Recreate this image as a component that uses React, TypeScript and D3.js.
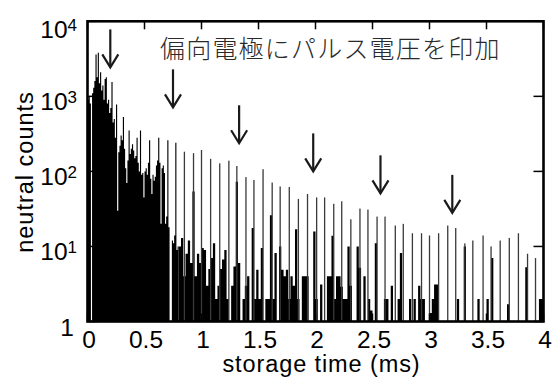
import React from "react";
import * as d3 from "d3";

// histogram of neutral counts vs storage time (ms)
const W = 552;
const H = 377;

const EARLY_BIN = 0.01; // ms, bins 0 .. 0.8 ms
const TAIL_START = 0.8;
const TAIL_BIN = 0.02; // ms, bins 0.8 .. 4 ms

const earlyCounts = [
  900, 1000, 800, 1, 1100, 1300, 1600, 3600, 1800, 3800,
  1500, 2100, 1200, 1400, 900, 1700, 1800, 800, 900, 600,
  700, 1550, 450, 500, 280, 780, 30, 180, 220, 300,
  260, 530, 200, 110, 70, 140, 350, 170, 200, 230,
  190, 150, 160, 280, 130, 100, 350, 90, 95, 45,
  100, 110, 90, 130, 260, 80, 50, 90, 75, 85,
  120, 140, 280, 130, 20, 110, 120, 95, 20, 25,
  260, 18, 1, 1, 12, 11, 14, 240, 9, 10,
];

const tailCounts = [
  10, 13, 4, 8, 12, 6, 54, 4, 8, 6,
  9.5, 9, 3, 5, 7, 11, 2, 3, 5, 6.7,
  9, 2, 1, 3, 5.4, 73, 6, 1, 2, 3,
  4, 1, 17.6, 2, 4.9, 2, 9.5, 1, 2, 2,
  26, 2, 8.2, 1, 10, 4.9, 4, 4.9, 2, 4,
  3, 17, 2, 1, 4, 4, 4, 1, 1, 15.8,
  2, 1, 3.1, 1, 1, 4, 4, 13.9, 2, 4,
  4, 2.9, 2, 2, 10, 3, 1, 1, 10, 5.2,
  1, 4, 1, 2, 1.4, 1, 11, 1, 1, 1,
  2, 2, 1, 3, 1, 1, 2, 8.2, 1, 1,
  1, 2, 1, 2, 1, 3, 2, 2, 1, 1,
  1.3, 2, 3.1, 3.1, 1, 1, 1, 1, 1, 1,
  1, 1, 2, 1, 1, 10, 1, 1, 1, 1,
  1, 2, 1, 1, 1, 2, 1, 7, 1, 1,
  1, 1, 1, 1, 1.7, 1, 1, 1, 1, 1,
  1, 1, 5.3, 1, 1, 1, 1, 1, 2, 2,
];

// periodic peaks after the pulses
const spikeTimes = [
  0.85, 0.93, 1.0, 1.08, 1.16, 1.24, 1.31, 1.39, 1.46, 1.54,
  1.62, 1.69, 1.77, 1.85, 1.93, 2.01, 2.08, 2.16, 2.23, 2.31,
  2.39, 2.46, 2.54, 2.61, 2.7, 2.77, 2.85, 2.93, 3.0, 3.08,
  3.16, 3.23, 3.31, 3.38, 3.47, 3.54, 3.62, 3.7, 3.78, 3.86,
  3.93,
];
const spikeCounts = [
  183, 175, 193, 147, 128, 139, 118, 84, 77, 107,
  71, 63, 62, 43, 50, 45, 45, 37, 40, 23,
  32, 31, 25, 25, 19, 20, 15, 15, 14, 15,
  19, 17.6, 11, 12, 14, 10, 12, 13, 15, 8,
  7,
];

const arrowTimes = [0.2, 0.75, 1.33, 1.98, 2.57, 3.2];
const arrowTips = [2430, 713, 237, 100, 51, 28];

const xTicks = [0, 0.5, 1, 1.5, 2, 2.5, 3, 3.5, 4];
const xTickLabels = ["0", "0.5", "1", "1.5", "2", "2.5", "3", "3.5", "4"];
const yTicks = [1, 10, 100, 1000, 10000];
const yTickExp = ["", "1", "2", "3", "4"];

const title = "偏向電極にパルス電圧を印加";

const SANS = "'Liberation Sans', Arial, sans-serif";

export default function App() {
  const left = 87.5, right = 543.5, top = 21.3, bottom = 321.5;
  const x = d3.scaleLinear().domain([0, 4]).range([left, right]);
  const y = d3.scaleLog().domain([1, 1e4]).range([bottom, top]);

  const area = d3
    .area<[number, number]>()
    .curve(d3.curveStepAfter)
    .x((d) => x(d[0]))
    .y0(y(1))
    .y1((d) => y(Math.max(d[1], 1)));

  const histPath = (counts: number[], t0: number, bw: number) => {
    const pts: [number, number][] = counts.map((c, i) => [t0 + i * bw, c]);
    pts.push([t0 + counts.length * bw, counts[counts.length - 1]]);
    return area(pts) || "";
  };

  const arrowLen = 38;

  return (
    <svg
      width={W}
      height={H}
      style={{ position: "absolute", left: 0, top: 0, background: "#fff" }}
    >
      <defs>
        <clipPath id="plot">
          <rect x={left} y={top} width={right - left} height={bottom - top} />
        </clipPath>
      </defs>

      <g clipPath="url(#plot)">
        <path d={histPath(earlyCounts, 0, EARLY_BIN)} fill="#000" />
        <path d={histPath(tailCounts, TAIL_START, TAIL_BIN)} fill="#000" />
        {spikeTimes.map((t, i) => (
          <rect
            key={i}
            x={x(t) - 0.65}
            y={y(spikeCounts[i])}
            width={1.3}
            height={y(1) - y(spikeCounts[i])}
            fill="#3a3a3a"
          />
        ))}
      </g>

      {/* ticks, inward */}
      <g stroke="#000" strokeWidth={1.5}>
        {xTicks.map((t, i) => (
          <g key={i}>
            <line x1={x(t)} x2={x(t)} y1={top} y2={top + 8} />
            <line x1={x(t)} x2={x(t)} y1={bottom} y2={bottom - 8} />
          </g>
        ))}
        {yTicks.map((v, i) => (
          <g key={i}>
            <line x1={left} x2={left + 10} y1={y(v)} y2={y(v)} />
            <line x1={right} x2={right - 10} y1={y(v)} y2={y(v)} />
          </g>
        ))}
      </g>
      <rect
        x={left}
        y={top}
        width={right - left}
        height={bottom - top}
        fill="none"
        stroke="#000"
        strokeWidth={2.6}
      />

      {/* tick labels */}
      <g fontFamily={SANS} fill="#000">
        {xTicks.map((t, i) => (
          <text key={i} x={x(t) + 1.5} y={348} fontSize={24.5} textAnchor="middle">
            {xTickLabels[i]}
          </text>
        ))}
        {yTicks.map((v, i) => (
          <text
            key={i}
            x={yTickExp[i] ? 77 : 74}
            y={Math.max(y(v) + 14, 38)}
            fontSize={24.5}
            textAnchor="end"
          >
            {yTickExp[i] ? "10" : "1"}
            {yTickExp[i] && (
              <tspan dy={-7} fontSize={17}>
                {yTickExp[i]}
              </tspan>
            )}
          </text>
        ))}
        <text
          x={321.5}
          y={371.5}
          fontSize={23.5}
          letterSpacing={0.9}
          textAnchor="middle"
        >
          storage time (ms)
        </text>
        <text
          transform={`translate(33,172) rotate(-90)`}
          fontSize={23.5}
          letterSpacing={1}
          textAnchor="middle"
        >
          neutral counts
        </text>
      </g>

      {/* pulse arrows */}
      <g stroke="#1a1a1a" strokeWidth={2.2} fill="none">
        {arrowTimes.map((t, i) => {
          const ax = x(t);
          const ay = y(arrowTips[i]);
          return (
            <g key={i}>
              <line x1={ax} x2={ax} y1={ay - arrowLen} y2={ay - 1} />
              <polyline points={`${ax - 8},${ay - 13} ${ax},${ay} ${ax + 8},${ay - 13}`} />
            </g>
          );
        })}
      </g>

      <text
        x={160}
        y={58}
        fontFamily="'Noto Sans CJK JP', sans-serif"
        fontWeight={300}
        fontSize={25}
        letterSpacing={1.2}
        fill="#2a2a2a"
      >
        {title}
      </text>
    </svg>
  );
}
